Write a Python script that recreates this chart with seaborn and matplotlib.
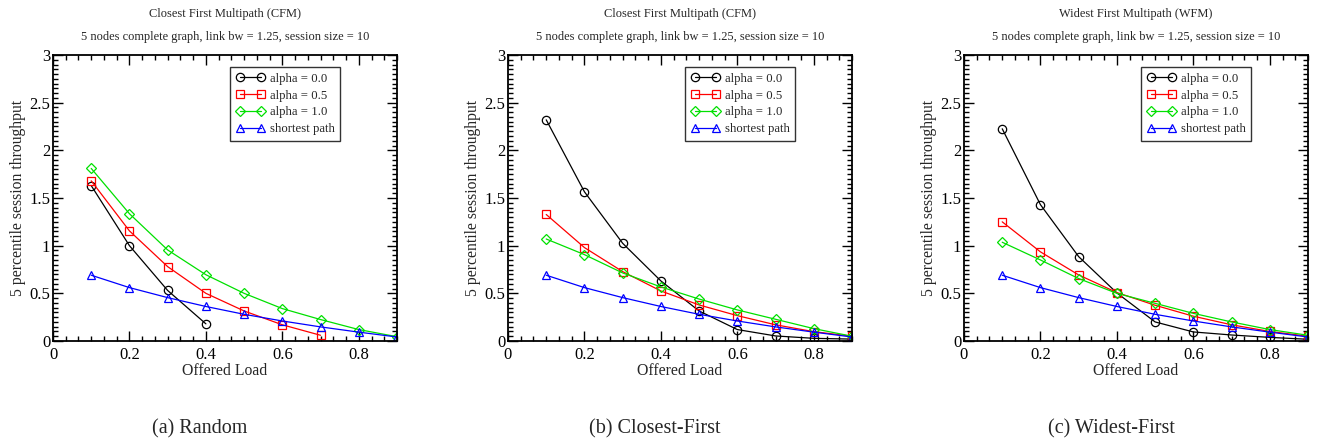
import numpy as np
import pandas as pd
import matplotlib
matplotlib.use("Agg")
import matplotlib.pyplot as plt
import seaborn as sns
from matplotlib.ticker import MultipleLocator, FixedLocator, FormatStrFormatter

# ---------------- data ----------------
loads = [0.1, 0.2, 0.3, 0.4, 0.5, 0.6, 0.7, 0.8, 0.9]
series_names = ["alpha = 0.0", "alpha = 0.5", "alpha = 1.0", "shortest path"]

random_a00 = [1.63, 1.00, 0.53, 0.18]
random_a05 = [1.68, 1.155, 0.78, 0.50, 0.315, 0.17, 0.06]
random_a10 = [1.81, 1.335, 0.955, 0.695, 0.50, 0.34, 0.225, 0.12, 0.045]
shortest = [0.69, 0.56, 0.455, 0.362, 0.28, 0.21, 0.148, 0.093, 0.042]

cfm_a00 = [2.32, 1.565, 1.025, 0.63, 0.315, 0.12, 0.053, 0.028, 0.02]
cfm_a05 = [1.327, 0.98, 0.728, 0.525, 0.378, 0.266, 0.17, 0.098, 0.05]
cfm_a10 = [1.07, 0.906, 0.714, 0.567, 0.44, 0.326, 0.228, 0.13, 0.05]

wfm_a00 = [2.226, 1.43, 0.885, 0.504, 0.20, 0.095, 0.063, 0.038, 0.018]
wfm_a05 = [1.25, 0.935, 0.693, 0.508, 0.375, 0.26, 0.17, 0.10, 0.05]
wfm_a10 = [1.036, 0.85, 0.655, 0.50, 0.395, 0.29, 0.20, 0.12, 0.06]

titles = ["Closest First Multipath (CFM)", "Closest First Multipath (CFM)", "Widest First Multipath (WFM)"]
subtitle = "5 nodes complete graph, link bw = 1.25, session size = 10"
captions = ["(a) Random", "(b) Closest-First", "(c) Widest-First"]
xlabel = "Offered Load"
ylabel = "5 percentile session throughput"

panels = [
    [random_a00, random_a05, random_a10, shortest],
    [cfm_a00, cfm_a05, cfm_a10, shortest],
    [wfm_a00, wfm_a05, wfm_a10, shortest],
]

colors = ["#000000", "#ff0000", "#00e000", "#0000ff"]
markers = ["o", "s", "D", "^"]
msizes = [6, 5.5, 5, 6]

# ---------------- style ----------------
sns.set_style("ticks")
plt.rcParams["font.family"] = ["Liberation Serif", "DejaVu Serif"]

fig = plt.figure(figsize=(13.17, 4.4), dpi=100)
lefts = [53, 508, 964]
W, H = 1317.0, 440.0
ax_w = 344
ax_top, ax_bot = 55, 341

for p, (left, data) in enumerate(zip(lefts, panels)):
    ax = fig.add_axes([left / W, (H - ax_bot) / H, ax_w / W, (ax_bot - ax_top) / H])
    for name, vals, c, m, ms in zip(series_names, data, colors, markers, msizes):
        df = pd.DataFrame({"x": loads[:len(vals)], "y": vals})
        sns.lineplot(data=df, x="x", y="y", ax=ax, color=c, marker=m,
                     markersize=ms, markerfacecolor="none", markeredgecolor=c,
                     markeredgewidth=0.9, linewidth=0.9, label=name,
                     estimator=None, sort=True)
    ax.set_xlim(0, 0.9)
    ax.set_ylim(0, 3)
    ax.xaxis.set_major_locator(FixedLocator([0, 0.2, 0.4, 0.6, 0.8]))
    ax.xaxis.set_minor_locator(FixedLocator([i * 0.2 / 6 for i in range(28)]))
    ax.yaxis.set_major_locator(MultipleLocator(0.5))
    ax.yaxis.set_minor_locator(MultipleLocator(0.05))
    ax.xaxis.set_major_formatter(FormatStrFormatter("%g"))
    ax.yaxis.set_major_formatter(FormatStrFormatter("%g"))
    ax.tick_params(which="both", direction="in", top=True, right=True,
                   labelsize=12, width=1.0, colors="black")
    ax.tick_params(axis="x", which="both", pad=4)
    ax.tick_params(axis="y", which="both", pad=2)
    ax.tick_params(which="major", length=7)
    ax.tick_params(which="minor", length=3.5)
    for s in ax.spines.values():
        s.set_linewidth(1.3)
        s.set_color("black")
    ax.set_xlabel(xlabel, fontsize=11.3, labelpad=0)
    ax.set_ylabel(ylabel, fontsize=11.3, labelpad=2)
    cx = (left + ax_w / 2) / W
    fig.text(cx, 1 - 14 / H, titles[p], ha="center", va="center", fontsize=8.9)
    fig.text(cx, 1 - 37 / H, subtitle, ha="center", va="center", fontsize=8.9)
    fig.text((left + ax_w / 2 - 25) / W, 1 - 429 / H, captions[p], ha="center",
             va="center", fontsize=14.5)
    leg = ax.legend(loc="upper left", bbox_to_anchor=(0.515, 0.958), numpoints=2,
                    fontsize=9.2, frameon=True, fancybox=False, handlelength=2.3,
                    handletextpad=0.35, borderpad=0.45, labelspacing=0.38,
                    borderaxespad=0)
    leg.get_frame().set_edgecolor("black")
    leg.get_frame().set_linewidth(1.0)

fig.savefig("out.png", dpi=100)
